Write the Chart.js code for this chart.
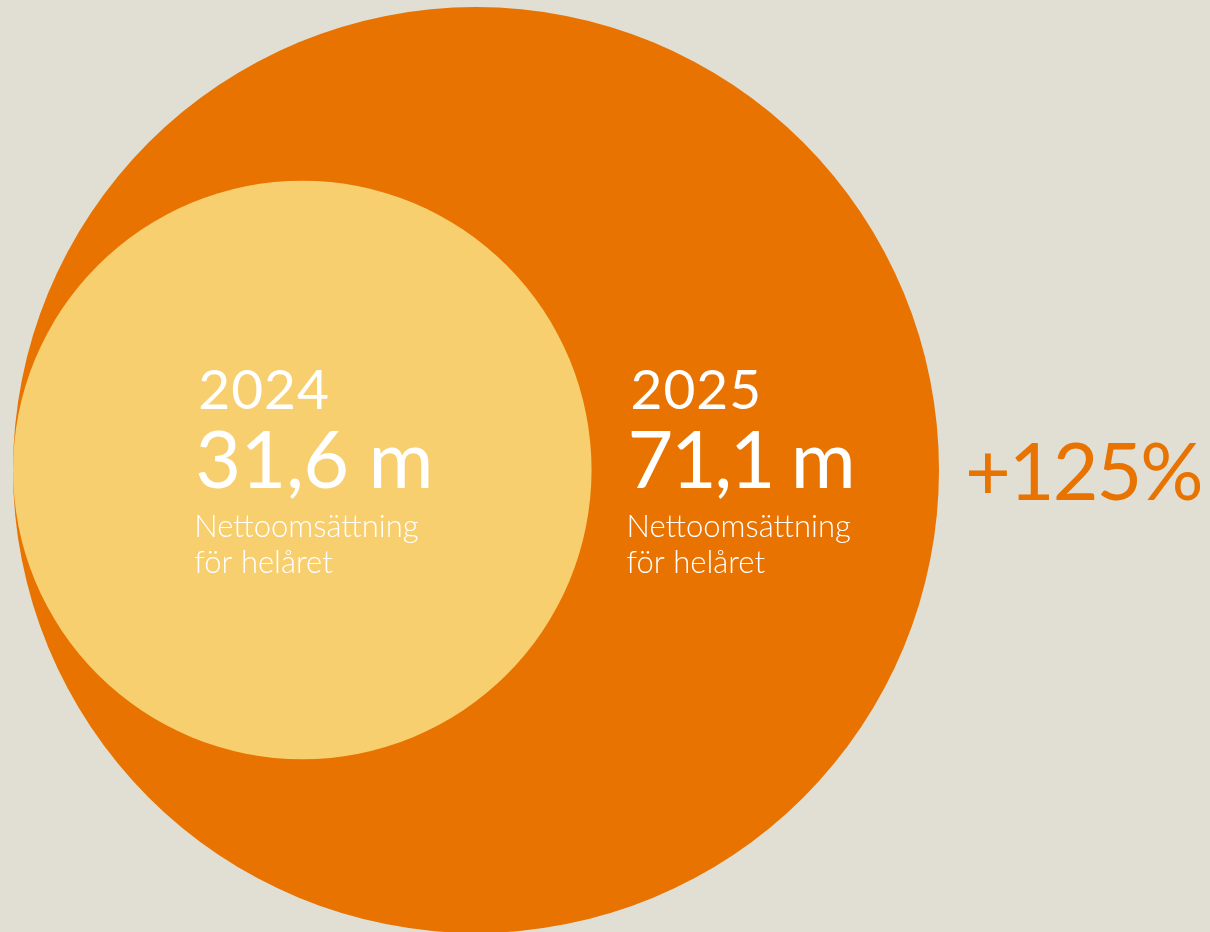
<!DOCTYPE html>
<html>
<head>
<meta charset="utf-8">
<script src="https://cdn.jsdelivr.net/npm/chart.js@4/dist/chart.umd.min.js"></script>
<style>
  html, body { margin: 0; padding: 0; background: #E1DFD3; }
  #wrap { width: 1210px; height: 932px; position: relative; }
</style>
</head>
<body>
<div id="wrap"><canvas id="c" width="1210" height="932"></canvas></div>
<script>
// Data
const categories = ['2024', '2025'];
const values = [31.6, 71.1];
const valueLabels = ['31,6 m', '71,1 m'];
const subLabel = ['Nettoomsättning', 'för helåret'];
const changeLabel = '+125%';

// Style
const colors = ['#F8CF6E', '#E87300'];
const W = 1210, H = 932;
const maxRadius = 463;
const leftEdge = 13;
const centerY = 470;

const vmax = Math.max(...values);
const radii = values.map(v => maxRadius * Math.pow(v / vmax, 0.58));

const datasets = categories.map((c, i) => ({
  label: c,
  data: [{ x: leftEdge + radii[i], y: centerY, r: radii[i] }],
  backgroundColor: colors[i],
  borderWidth: 0,
  hoverBorderWidth: 0,
  clip: false,
  order: i
}));

const textPlugin = {
  id: 'texts',
  afterDatasetsDraw(chart) {
    const ctx = chart.ctx;
    const small = chart.getDatasetMeta(0).data[0];
    const big = chart.getDatasetMeta(1).data[0];
    const xs = [small.x - 106, small.x + radii[0] + 37];
    const valueSpacing = ['-0.5px', '-2.5px'];
    ctx.save();
    ctx.fillStyle = '#FFFFFF';
    ctx.textAlign = 'left';
    ctx.textBaseline = 'alphabetic';
    for (let i = 0; i < categories.length; i++) {
      const x = xs[i];
      ctx.letterSpacing = '1px';
      ctx.font = '400 55px Lato';
      ctx.fillText(categories[i], x + 2, 409);
      ctx.letterSpacing = valueSpacing[i];
      ctx.font = '400 79px Lato';
      ctx.fillText(valueLabels[i], x - 1, 488);
      ctx.letterSpacing = '0px';
      ctx.font = '300 31px Lato';
      ctx.fillText(subLabel[0], x - 2, 537);
      ctx.fillText(subLabel[1], x - 2, 573);
    }
    ctx.fillStyle = colors[1];
    ctx.letterSpacing = '-2px';
    ctx.font = '400 79px Lato';
    ctx.fillText(changeLabel, big.x + radii[1] + 26, 500);
    ctx.restore();
  }
};

new Chart(document.getElementById('c'), {
  type: 'bubble',
  data: { datasets },
  options: {
    responsive: false,
    animation: false,
    events: [],
    layout: { padding: 0, autoPadding: false },
    plugins: { legend: { display: false }, tooltip: { enabled: false } },
    scales: {
      x: { type: 'linear', min: 0, max: W, display: false },
      y: { type: 'linear', min: 0, max: H, reverse: true, display: false }
    }
  },
  plugins: [textPlugin]
});
</script>
</body>
</html>
